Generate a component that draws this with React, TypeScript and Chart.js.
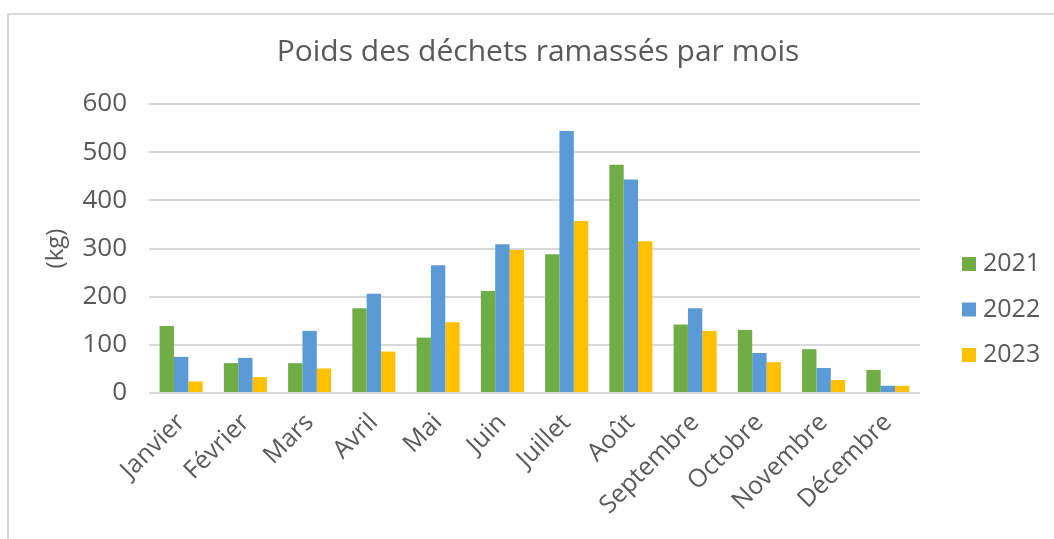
import React, { useEffect, useRef } from "react";
import { Chart, registerables } from "chart.js";

Chart.register(...registerables);

const months = ["Janvier", "Février", "Mars", "Avril", "Mai", "Juin", "Juillet", "Août", "Septembre", "Octobre", "Novembre", "Décembre"];
const series2021 = [139, 62, 62, 176, 115, 212, 288, 474, 142, 131, 91, 48];
const series2022 = [75, 73, 129, 206, 265, 309, 544, 443, 176, 83, 52, 15];
const series2023 = [24, 33, 51, 86, 147, 297, 357, 315, 129, 64, 27, 15];
const seriesNames = ["2021", "2022", "2023"];
const seriesColors = ["#70AD47", "#5B9BD5", "#FFC000"];
const yTicks = [0, 100, 200, 300, 400, 500, 600];
const chartTitle = "Poids des déchets ramassés par mois";

const FONT = "'Open Sans', 'Noto Sans', sans-serif";
const TEXT = "#595959";

const framePlugin = {
  id: "frame",
  beforeDraw(chart: any) {
    const ctx = chart.ctx;
    ctx.save();
    ctx.fillStyle = "#ffffff";
    ctx.fillRect(0, 0, chart.width, chart.height);
    ctx.strokeStyle = "#d9d9d9";
    ctx.lineWidth = 2;
    ctx.strokeRect(8, 14, chart.width + 20, chart.height + 20);
    ctx.restore();
  },
};

const titlePlugin = {
  id: "centerTitle",
  afterDraw(chart: any) {
    const ctx = chart.ctx;
    ctx.save();
    ctx.font = `30px ${FONT}`;
    ctx.fillStyle = TEXT;
    ctx.textAlign = "center";
    ctx.textBaseline = "middle";
    ctx.fillText(chartTitle, 538, 52);
    ctx.restore();
  },
};

const legendPlugin = {
  id: "sideLegend",
  afterDraw(chart: any) {
    const ctx = chart.ctx;
    ctx.save();
    ctx.font = `25px ${FONT}`;
    ctx.textBaseline = "middle";
    ctx.textAlign = "left";
    chart.data.datasets.forEach((ds: any, i: number) => {
      const cy = 264 + i * 45.5;
      ctx.fillStyle = ds.backgroundColor;
      ctx.fillRect(962, cy - 7, 14, 14);
      ctx.fillStyle = TEXT;
      ctx.fillText(ds.label, 983, cy);
    });
    ctx.restore();
  },
};

export default function App() {
  const ref = useRef<HTMLCanvasElement>(null);

  useEffect(() => {
    if (!ref.current) return;
    const chart = new Chart(ref.current, {
      type: "bar",
      data: {
        labels: months,
        datasets: [series2021, series2022, series2023].map((d, i) => ({
          label: seriesNames[i],
          data: d,
          backgroundColor: seriesColors[i],
          borderWidth: 0,
          categoryPercentage: 0.67,
          barPercentage: 1,
        })),
      },
      options: {
        responsive: false,
        animation: false,
        layout: { padding: { left: 0, right: 134, top: 104, bottom: 0 } },
        plugins: {
          legend: { display: false },
          tooltip: { enabled: false },
          title: { display: false },
        },
        scales: {
          x: {
            grid: { display: false },
            border: { display: false },
            ticks: {
              color: TEXT,
              font: { family: FONT, size: 25 },
              minRotation: 45,
              maxRotation: 45,
              padding: 7,
            },
            afterFit: (scale: any) => {
              scale.height = 146;
            },
          },
          y: {
            min: 0,
            max: 600,
            afterBuildTicks: (scale: any) => {
              scale.ticks = yTicks.map((v) => ({ value: v }));
            },
            grid: { color: "#d9d9d9", lineWidth: 2, drawTicks: false },
            border: { display: false },
            ticks: {
              color: TEXT,
              font: { family: FONT, size: 26 },
              padding: 22,
            },
            title: {
              display: true,
              text: "(kg)",
              color: TEXT,
              font: { family: FONT, size: 24 },
              padding: { top: 42, bottom: 0 },
            },
            afterFit: (scale: any) => {
              scale.width = 149;
            },
          },
        },
      },
      plugins: [framePlugin, titlePlugin, legendPlugin],
    });
    return () => chart.destroy();
  }, []);

  return (
    <div style={{ position: "fixed", left: 0, top: 0, width: 1054, height: 539, background: "#fff" }}>
      <canvas ref={ref} width={1054} height={539} style={{ display: "block" }} />
    </div>
  );
}
